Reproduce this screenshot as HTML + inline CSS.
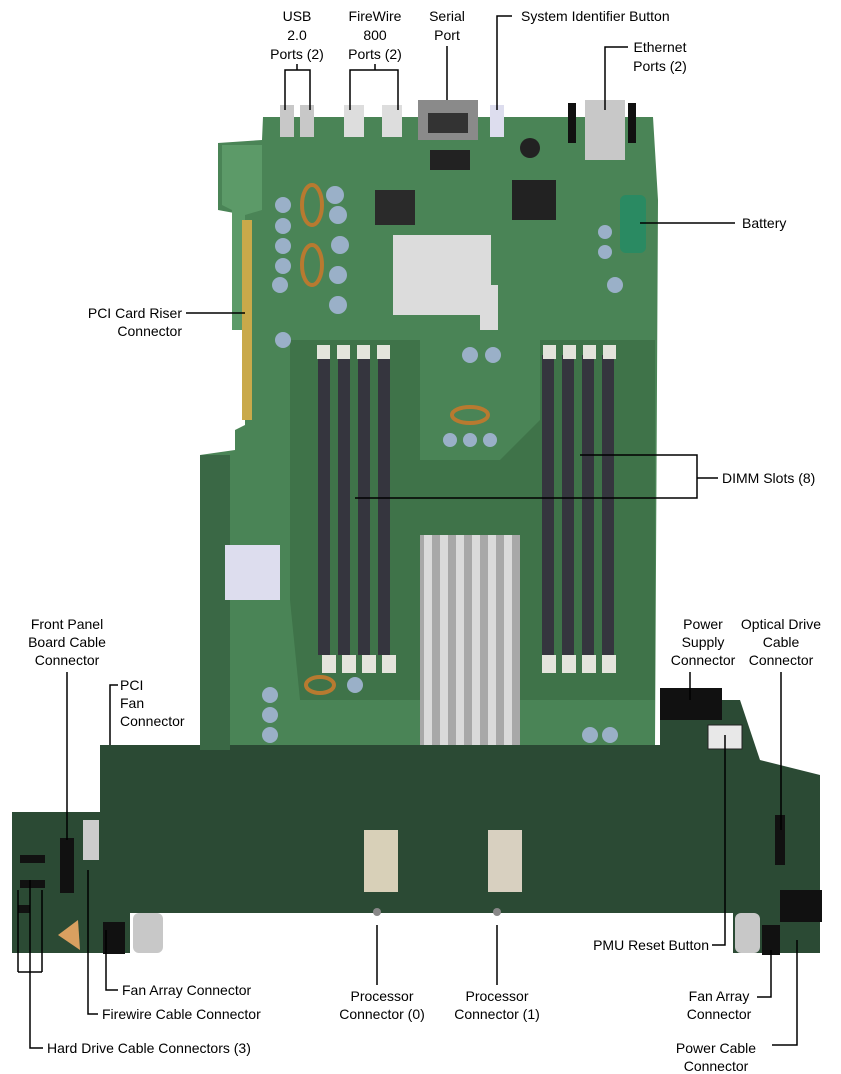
<!DOCTYPE html>
<html><head><meta charset="utf-8"><style>
html,body{margin:0;padding:0;background:#fff;}
svg{display:block;}
text{font-family:"Liberation Sans",Arial,sans-serif;font-size:14px;fill:#000;}
</style></head><body>
<svg width="841" height="1074" viewBox="0 0 841 1074" xmlns="http://www.w3.org/2000/svg">
<g>
<!-- lower dark board -->
<polygon fill="#2b4a34" points="100,745 660,745 660,700 740,700 760,760 820,775 820,953 733,953 733,913 130,913 130,953 100,953"/>
<polygon fill="#2b4a34" points="12,812 100,812 100,953 12,953"/>
<!-- upper board -->
<polygon fill="#4a8456" points="263,117 653,117 658,200 655,745 200,745 200,455 235,450 235,430 245,425 245,215 218,210 218,143 262,140"/>
<polygon fill="#3f7349" points="290,340 420,340 420,460 500,460 540,420 540,340 655,340 655,700 520,700 520,745 420,745 420,700 300,700 290,600"/>
<polygon fill="#5c9a68" points="222,145 262,145 262,210 245,215 245,330 232,330 232,210 222,205"/>
<polygon fill="#3a6845" points="200,455 230,455 230,750 200,750"/>
<rect x="242" y="220" width="10" height="200" fill="#c9a94a"/>
<!-- top ports -->
<rect x="280" y="105" width="14" height="32" fill="#c8c8c8"/><rect x="300" y="105" width="14" height="32" fill="#c8c8c8"/>
<rect x="344" y="105" width="20" height="32" fill="#ddd"/><rect x="382" y="105" width="20" height="32" fill="#ddd"/>
<rect x="418" y="100" width="60" height="40" fill="#8a8a8a"/><rect x="428" y="113" width="40" height="20" fill="#333"/>
<rect x="490" y="105" width="14" height="32" fill="#dde"/>
<rect x="585" y="100" width="40" height="60" fill="#c8c8c8"/>
<rect x="568" y="103" width="8" height="40" fill="#111"/><rect x="628" y="103" width="8" height="40" fill="#111"/>
<circle cx="530" cy="148" r="10" fill="#222"/>
<!-- battery -->
<rect x="620" y="195" width="26" height="58" rx="6" fill="#2a8a62"/>
<!-- chips -->
<rect x="512" y="180" width="44" height="40" fill="#222"/>
<rect x="375" y="190" width="40" height="35" fill="#2a2a2a"/>
<rect x="430" y="150" width="40" height="20" fill="#222"/>
<rect x="225" y="545" width="55" height="55" fill="#dde"/>
<!-- capacitors -->
<g fill="#9ab0c8">
<circle cx="283" cy="205" r="8"/><circle cx="283" cy="226" r="8"/><circle cx="283" cy="246" r="8"/><circle cx="283" cy="266" r="8"/><circle cx="280" cy="285" r="8"/>
<circle cx="335" cy="195" r="9"/><circle cx="338" cy="215" r="9"/><circle cx="340" cy="245" r="9"/><circle cx="338" cy="275" r="9"/><circle cx="338" cy="305" r="9"/>
<circle cx="283" cy="340" r="8"/>
<circle cx="270" cy="695" r="8"/><circle cx="270" cy="715" r="8"/><circle cx="270" cy="735" r="8"/>
<circle cx="355" cy="685" r="8"/><circle cx="470" cy="440" r="7"/><circle cx="450" cy="440" r="7"/><circle cx="490" cy="440" r="7"/><circle cx="470" cy="355" r="8"/><circle cx="493" cy="355" r="8"/>
<circle cx="605" cy="232" r="7"/><circle cx="605" cy="252" r="7"/><circle cx="615" cy="285" r="8"/><circle cx="610" cy="735" r="8"/><circle cx="590" cy="735" r="8"/>
</g>
<g fill="none" stroke="#b87a30" stroke-width="4">
<ellipse cx="312" cy="205" rx="10" ry="20"/><ellipse cx="312" cy="265" rx="10" ry="20"/><ellipse cx="470" cy="415" rx="18" ry="8"/><ellipse cx="320" cy="685" rx="14" ry="8"/>
</g>
<!-- northbridge heatsink -->
<rect x="393" y="235" width="98" height="80" fill="#dcdcdc"/>
<rect x="480" y="285" width="18" height="45" fill="#dcdcdc"/>
<rect x="395" y="238" width="12" height="40" fill="#dcdcdc"/>
<!-- DIMM slots -->
<g fill="#35353e">
<rect x="318" y="355" width="12" height="300"/><rect x="338" y="355" width="12" height="300"/><rect x="358" y="355" width="12" height="300"/><rect x="378" y="355" width="12" height="300"/>
<rect x="542" y="355" width="12" height="300"/><rect x="562" y="355" width="12" height="300"/><rect x="582" y="355" width="12" height="300"/><rect x="602" y="355" width="12" height="300"/>
</g>
<g fill="#e4e4dc">
<rect x="317" y="345" width="13" height="14"/><rect x="337" y="345" width="13" height="14"/><rect x="357" y="345" width="13" height="14"/><rect x="377" y="345" width="13" height="14"/>
<rect x="543" y="345" width="13" height="14"/><rect x="563" y="345" width="13" height="14"/><rect x="583" y="345" width="13" height="14"/><rect x="603" y="345" width="13" height="14"/>
<rect x="322" y="655" width="14" height="18"/><rect x="342" y="655" width="14" height="18"/><rect x="362" y="655" width="14" height="18"/><rect x="382" y="655" width="14" height="18"/>
<rect x="542" y="655" width="14" height="18"/><rect x="562" y="655" width="14" height="18"/><rect x="582" y="655" width="14" height="18"/><rect x="602" y="655" width="14" height="18"/>
</g>
<!-- CPU heatsink -->
<rect x="420" y="535" width="100" height="210" fill="#a8a8a8"/>
<g fill="#dadada"><rect x="424" y="535" width="8" height="210"/><rect x="440" y="535" width="8" height="210"/><rect x="456" y="535" width="8" height="210"/><rect x="472" y="535" width="8" height="210"/><rect x="488" y="535" width="8" height="210"/><rect x="504" y="535" width="8" height="210"/></g>
<!-- processor connectors -->
<rect x="364" y="830" width="34" height="62" fill="#d8d0b8"/>
<rect x="488" y="830" width="34" height="62" fill="#d8d0c0"/>
<circle cx="377" cy="912" r="4" fill="#888"/><circle cx="497" cy="912" r="4" fill="#888"/>
<!-- connectors -->
<rect x="660" y="688" width="62" height="32" fill="#111"/>
<rect x="708" y="725" width="34" height="24" fill="#e8e8e8" stroke="#222"/>
<rect x="775" y="815" width="10" height="50" fill="#111"/>
<rect x="780" y="890" width="42" height="32" fill="#111"/>
<rect x="762" y="925" width="18" height="30" fill="#111"/>
<rect x="103" y="922" width="22" height="32" fill="#111"/>
<rect x="60" y="838" width="14" height="55" fill="#111"/>
<rect x="83" y="820" width="16" height="40" fill="#ccc"/>
<rect x="20" y="855" width="25" height="8" fill="#111"/><rect x="20" y="880" width="25" height="8" fill="#111"/><rect x="18" y="905" width="12" height="8" fill="#111"/>
<polygon points="58,935 78,920 80,950" fill="#d9a060"/>
<!-- brackets -->
<rect x="133" y="913" width="30" height="40" rx="6" fill="#c8c8c8"/>
<rect x="735" y="913" width="25" height="40" rx="6" fill="#c8c8c8"/>
</g>
<!-- leader lines -->
<g stroke="#000" stroke-width="1.5" fill="none">
<path d="M297,64 V70 M285,110 V70 H310 V110"/>
<path d="M375,64 V70 M350,110 V70 H398 V110"/>
<path d="M447,46 V100"/>
<path d="M497,110 V16 H512"/>
<path d="M605,110 V47 H628"/>
<path d="M640,223 H735"/>
<path d="M186,313 H245"/>
<path d="M580,455 H697 V498 H355 M697,478 H718"/>
<path d="M67,672 V840"/>
<path d="M118,685 H110 V745"/>
<path d="M690,672 V700"/>
<path d="M781,672 V830"/>
<path d="M712,945 H725 V735"/>
<path d="M106,930 V990 H118"/>
<path d="M88,870 V1014 H98"/>
<path d="M18,890 V972 M42,890 V972 M18,972 H42 M30,880 V1048 H43"/>
<path d="M377,925 V985"/>
<path d="M497,925 V985"/>
<path d="M771,950 V997 H757"/>
<path d="M797,940 V1045 H772"/>
</g>
<!-- labels -->
<g text-anchor="middle">
<text x="297" y="21">USB</text><text x="297" y="40">2.0</text><text x="297" y="59">Ports (2)</text>
<text x="375" y="21">FireWire</text><text x="375" y="40">800</text><text x="375" y="59">Ports (2)</text>
<text x="447" y="21">Serial</text><text x="447" y="40">Port</text>
<text x="660" y="52">Ethernet</text><text x="660" y="71">Ports (2)</text>
<text x="67" y="629">Front Panel</text><text x="67" y="647">Board Cable</text><text x="67" y="665">Connector</text>
<text x="703" y="629">Power</text><text x="703" y="647">Supply</text><text x="703" y="665">Connector</text>
<text x="781" y="629">Optical Drive</text><text x="781" y="647">Cable</text><text x="781" y="665">Connector</text>
<text x="382" y="1001">Processor</text><text x="382" y="1019">Connector (0)</text>
<text x="497" y="1001">Processor</text><text x="497" y="1019">Connector (1)</text>
<text x="719" y="1001">Fan Array</text><text x="719" y="1019">Connector</text>
<text x="716" y="1053">Power Cable</text><text x="716" y="1071">Connector</text>
</g>
<text x="521" y="21">System Identifier Button</text>
<text x="742" y="228">Battery</text>
<g text-anchor="end"><text x="182" y="318">PCI Card Riser</text><text x="182" y="336">Connector</text>
<text x="709" y="950">PMU Reset Button</text></g>
<text x="722" y="483">DIMM Slots (8)</text>
<text x="120" y="690">PCI</text><text x="120" y="708">Fan</text><text x="120" y="726">Connector</text>
<text x="122" y="995">Fan Array Connector</text>
<text x="102" y="1019">Firewire Cable Connector</text>
<text x="47" y="1053">Hard Drive Cable Connectors (3)</text>
</svg>
</body></html>
